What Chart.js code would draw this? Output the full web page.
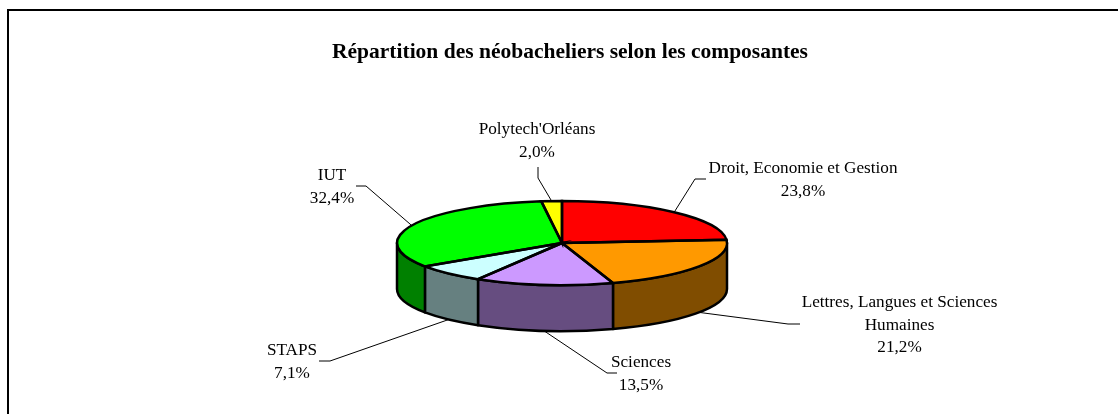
<!DOCTYPE html>
<html lang="fr">
<head>
<meta charset="utf-8">
<title>Répartition des néobacheliers</title>
<style>html,body{margin:0;padding:0;background:#fff}canvas{display:block}</style>
<script src="https://cdn.jsdelivr.net/npm/chart.js@4"></script>
</head>
<body>
<canvas id="c" width="1118" height="414"></canvas>
<script>
const titleText = "Répartition des néobacheliers selon les composantes";
const categories = ["Droit, Economie et Gestion", "Lettres, Langues et Sciences Humaines", "Sciences", "STAPS", "IUT", "Polytech'Orléans"];
const shares = [23.8, 21.2, 13.5, 7.1, 32.4, 2.0];
const topColors = ["#FF0000", "#FF9900", "#CC99FF", "#CCFFFF", "#00FF00", "#FFFF00"];
const sideColors = ["#800000", "#804D00", "#664D80", "#668080", "#008000", "#808000"];

// layout of the hand-placed data labels
const labelLines = [["Droit, Economie et Gestion"], ["Lettres, Langues et Sciences", "Humaines"], ["Sciences"], ["STAPS"], ["IUT"], ["Polytech'Orléans"]];
const labelCenters = [[803,173],[899.5,307],[641,367],[292,355],[332,180],[537,134]];
const leaderBends = [[[695,179],[706,179]],[[788,324],[800,324]],[[607,373],[617,373]],[[330,361],[319,361]],[[366,186],[356,186]],[[538,178],[538,167]]];

const TILT = 42 / 165, DEPTH = 46, LINE = 2.5, LABEL_FONT = "17.2px 'Liberation Serif'", LINE_H = 22.5;

const pie3d = {
  id: 'pie3d',
  afterLayout(chart) {
    chart.titleBlock.left += 16;
  },
  beforeDraw(chart) {
    const c = chart.ctx;
    c.save();
    c.fillStyle = '#fff';
    c.fillRect(0, 0, chart.width, chart.height);
    c.strokeStyle = '#000';
    c.lineWidth = 2;
    c.beginPath();
    c.moveTo(8, chart.height);
    c.lineTo(8, 10);
    c.lineTo(chart.width, 10);
    c.stroke();
    c.restore();
  },
  beforeDatasetsDraw(chart) {
    const c = chart.ctx, arcs = chart.getDatasetMeta(0).data;
    // side walls: only the near half of the rim (angles 0..PI) shows
    arcs.forEach((a, i) => {
      const s = Math.max(a.startAngle, 0), e = Math.min(a.endAngle, Math.PI);
      if (e <= s) return;
      const ry = a.outerRadius * TILT;
      c.save();
      c.beginPath();
      c.ellipse(a.x, a.y, a.outerRadius, ry, 0, s, e);
      c.ellipse(a.x, a.y + DEPTH, a.outerRadius, ry, 0, e, s, true);
      c.closePath();
      c.fillStyle = sideColors[i];
      c.fill();
      c.lineWidth = LINE;
      c.lineJoin = 'round';
      c.strokeStyle = '#000';
      c.stroke();
      c.restore();
    });
    // flatten the library's own pie into the tilted top face
    const a0 = arcs[0];
    c.save();
    c.translate(a0.x, a0.y);
    c.scale(1, TILT);
    c.translate(-a0.x, -a0.y);
  },
  afterDatasetsDraw(chart) {
    const c = chart.ctx, arcs = chart.getDatasetMeta(0).data;
    c.restore();
    // top-face outlines at an even width
    arcs.forEach(a => {
      c.save();
      c.beginPath();
      c.moveTo(a.x, a.y);
      c.ellipse(a.x, a.y, a.outerRadius, a.outerRadius * TILT, 0, a.startAngle, a.endAngle);
      c.closePath();
      c.lineWidth = LINE;
      c.lineJoin = 'miter';
      c.strokeStyle = '#000';
      c.stroke();
      c.restore();
    });
    // leader lines and labels
    c.save();
    arcs.forEach((a, i) => {
      const mid = (a.startAngle + a.endAngle) / 2;
      const ax = a.x + a.outerRadius * Math.cos(mid);
      const ay = a.y + a.outerRadius * TILT * Math.sin(mid) + (Math.sin(mid) > 0 ? DEPTH : 0);
      c.beginPath();
      c.moveTo(ax, ay);
      leaderBends[i].forEach(p => c.lineTo(p[0], p[1]));
      c.lineWidth = 1;
      c.strokeStyle = '#000';
      c.stroke();
      const lines = labelLines[i].concat(shares[i].toFixed(1).replace('.', ',') + '%');
      c.font = LABEL_FONT;
      c.fillStyle = '#000';
      c.textAlign = 'center';
      c.textBaseline = 'alphabetic';
      lines.forEach((t, k) => c.fillText(t, labelCenters[i][0], labelCenters[i][1] + k * LINE_H));
    });
    c.restore();
  }
};

new Chart(document.getElementById('c'), {
  type: 'pie',
  data: {
    labels: categories,
    datasets: [{ data: shares, backgroundColor: topColors, borderWidth: 0 }]
  },
  plugins: [pie3d],
  options: {
    responsive: false,
    animation: false,
    events: [],
    layout: { padding: { left: 6, right: 0, top: 0, bottom: 6 } },
    plugins: {
      legend: { display: false },
      tooltip: { enabled: false },
      title: {
        display: true,
        text: titleText,
        color: '#000',
        font: { family: "'Liberation Serif'", size: 21.5, weight: 'bold', lineHeight: 1.2 },
        padding: { top: 40, bottom: 12.2 }
      }
    }
  }
});
</script>
</body>
</html>
